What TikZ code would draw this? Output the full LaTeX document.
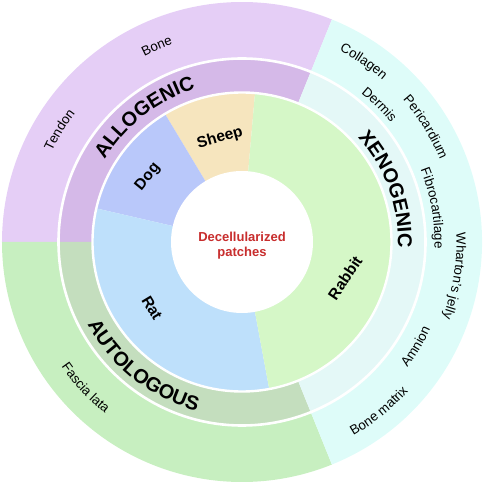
\documentclass[tikz,border=0pt]{standalone}
\usepackage{fontspec}
\setmainfont{Liberation Sans}
\usetikzlibrary{decorations.text}
\definecolor{outerPurple}{RGB}{229,206,246}
\definecolor{midPurple}{RGB}{213,185,232}
\definecolor{outerCyan}{RGB}{222,252,249}
\definecolor{midCyan}{RGB}{228,248,247}
\definecolor{outerGreen}{RGB}{199,239,192}
\definecolor{midGreen}{RGB}{196,222,190}
\definecolor{sheepC}{RGB}{246,229,190}
\definecolor{dogC}{RGB}{185,200,250}
\definecolor{ratC}{RGB}{190,224,251}
\definecolor{rabbitC}{RGB}{213,247,199}
\definecolor{centreRed}{RGB}{200,45,45}
\newcommand\ringsector[5]{% inner r, outer r, start angle, end angle, colour
  \fill[#5] (#3:#2) arc[start angle=#3,end angle=#4,radius=#2] -- (#4:#1) arc[start angle=#4,end angle=#3,radius=#1] -- cycle;}
\newcommand\outfont{\fontsize{13.3}{15}\selectfont}
\newcommand\ringfont{\bfseries\fontsize{20}{24}\selectfont}
% clockwise text, tops outward: angle, baseline radius, font, text
\newcommand\arccw[4]{%
  \path[decorate,decoration={text along path,text align=center,text={|#3|#4}}] ({#1+40}:#2) arc[start angle={#1+40},end angle={#1-40},radius=#2];}
% counter-clockwise text, tops inward
\newcommand\arcccw[4]{%
  \path[decorate,decoration={text along path,text align=center,text={|#3|#4}}] ({#1-40}:#2) arc[start angle={#1-40},end angle={#1+40},radius=#2];}
\begin{document}
\begin{tikzpicture}[x=1pt,y=1pt,
  animal/.style={font=\bfseries\fontsize{15.5}{17}\selectfont,inner sep=0pt}]
\useasboundingbox (-242,-242) rectangle (242,242);
% outer ring
\ringsector{184}{240}{68}{180}{outerPurple}
\ringsector{184}{240}{180}{292}{outerGreen}
\ringsector{184}{240}{-68}{68}{outerCyan}
% middle ring
\ringsector{150}{184}{68}{180}{midPurple}
\ringsector{150}{184}{180}{292}{midGreen}
\ringsector{150}{184}{-68}{68}{midCyan}
% inner ring
\ringsector{70}{150}{85}{121}{sheepC}
\ringsector{70}{150}{121}{167}{dogC}
\ringsector{70}{150}{167}{280.5}{ratC}
\ringsector{70}{150}{-79.5}{85}{rabbitC}
% white separations
\draw[white,line width=2.4pt] (0,0) circle[radius=149.5];
\draw[white,line width=2.6pt] (0,0) circle[radius=183.5];
\fill[white] (0,0) circle[radius=71];
% centre text
\node[font=\bfseries\fontsize{13}{15}\selectfont,text=centreRed,align=center] (centre) at (0,-4) {Decellularized\\patches};
% animal labels
\node[animal,rotate=16] (sheep) at (-22,104) {Sheep};
\node[animal,rotate=51] (dog) at (-94,65) {Dog};
\node[animal,rotate=-59] (rat) at (-90,-66) {Rat};
\node[animal,rotate=56] (rabbit) at (103,-36) {Rabbit};
% ring labels
\arccw{128}{160}{\ringfont}{ALLOGENIC}
\arccw{20}{156}{\ringfont}{XENOGENIC}
\arcccw{231.5}{175}{\ringfont}{AUTOLOGOUS}
% outer labels
\arccw{148.5}{210.5}{\outfont}{Tendon}
\arccw{113.5}{209.5}{\outfont}{Bone}
\arccw{56}{214.5}{\outfont}{Collagen}
\arccw{45}{190.5}{\outfont}{Dermis}
\arccw{32}{214.5}{\outfont}{Pericardium}
\arccw{10}{192.5}{\outfont}{Fibrocartilage}
\arccw{-9}{214.5}{\outfont}{Wharton’s jelly}
\arcccw{-31}{207.5}{\outfont}{Amnion}
\arcccw{-51}{223.5}{\outfont}{Bone matrix}
\arcccw{223}{219.5}{\outfont}{Fascia lata}
\end{tikzpicture}
\end{document}
